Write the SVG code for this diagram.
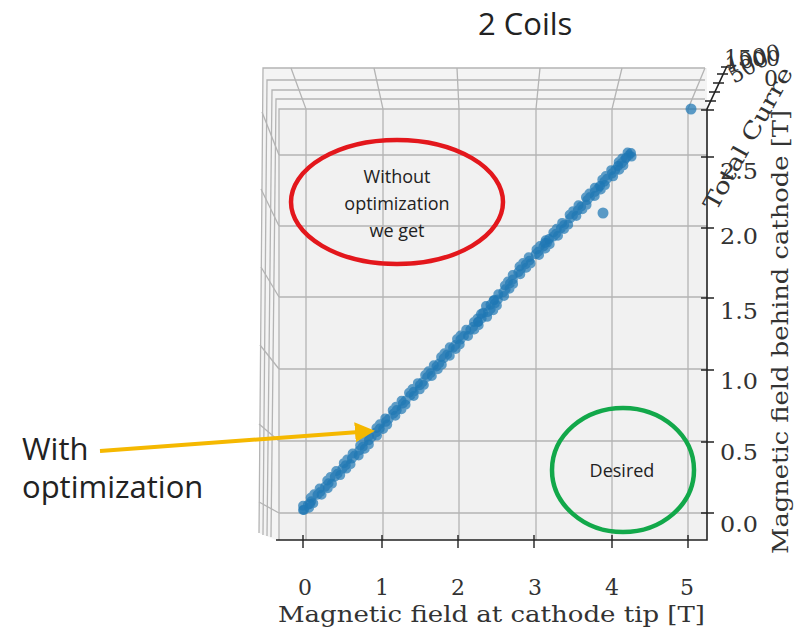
<svg xmlns="http://www.w3.org/2000/svg" width="795" height="635" viewBox="0 0 795 635">
<style>
.grid{stroke:#b4b4b4;stroke-width:1.3;fill:none}
.ax{stroke:#222;stroke-width:1.6;fill:none}
.tk{stroke:#222;stroke-width:1.4}
.num{font-family:"DejaVu Serif",serif;font-size:22px;fill:#333}
.lbl{font-family:"DejaVu Serif",serif;font-size:22.5px;fill:#333}
.note{font-family:"Open Sans","Liberation Sans",sans-serif;fill:#222}
.dots{fill:none;stroke:#1f77b4;stroke-opacity:0.7;stroke-width:10;stroke-linecap:round}
.pt{fill:#1f77b4;fill-opacity:0.72}
</style>
<defs>
<marker id="ah" markerWidth="5" markerHeight="5" refX="1" refY="2.5" orient="auto" markerUnits="strokeWidth">
<path d="M0,0 L5,2.5 L0,5 Z" fill="#f5b800"/>
</marker>
</defs>
<rect width="795" height="635" fill="#fff"/>

<g id="plot-background">
<path d="M259,533 L263,68 L707,68 L707,540 L276,540 Z" fill="#f4f4f4"/>
<rect x="279" y="109" width="428" height="431" fill="#f1f1f1"/>
</g>

<g id="grid">
<path class="grid" d="M259,533 L263,68 L705,68"/>
<path class="grid" d="M263,535 L267,80 L705,80"/>
<path class="grid" d="M267,536 L272,90 L705,90"/>
<path class="grid" d="M271,537 L276,99 L705,99"/>
<path class="grid" d="M279,540 L279,109 L707,109"/>
<path class="grid" d="M306,540 V109 L291,68 M383,540 V109 L374,68 M459,540 V109 L457,68 M536,540 V109 L540,68 M612,540 V109 L622,68 M688,540 V109 L705,68"/>
<path class="grid" d="M279,155 H707 M279,226 H707 M279,297 H707 M279,369 H707 M279,441 H707 M279,513 H707"/>
<path class="grid" d="M279,155 L262,112 M279,226 L261,189 M279,297 L261,267 M279,369 L260,345 M279,441 L259,424 M279,513 L259,502"/>
</g>

<g id="axes">
<path class="ax" d="M276,540 H707 V109 L727,66"/>
<path class="tk" d="M303,535 V548 M382,535 V548 M458,535 V548 M534,535 V548 M612,535 V548 M688,535 V548"/>
<path class="tk" d="M701,110 H714 M701,157 H714 M701,228 H714 M701,298 H714 M701,370 H714 M701,442 H714 M701,513 H714"/>
<path class="tk" d="M705,101 H716 M709,92 H720 M713,83 H724 M717,74 H728 M721,67 H731"/>
<g class="num" text-anchor="middle">
<text x="305" y="595">0</text>
<text x="382" y="595">1</text>
<text x="458" y="595">2</text>
<text x="535" y="595">3</text>
<text x="612" y="595">4</text>
<text x="687" y="595">5</text>
</g>
<g class="num">
<text x="720" y="532" textLength="38" lengthAdjust="spacingAndGlyphs">0.0</text>
<text x="720" y="460" textLength="38" lengthAdjust="spacingAndGlyphs">0.5</text>
<text x="720" y="389" textLength="38" lengthAdjust="spacingAndGlyphs">1.0</text>
<text x="720" y="319" textLength="38" lengthAdjust="spacingAndGlyphs">1.5</text>
<text x="720" y="244" textLength="38" lengthAdjust="spacingAndGlyphs">2.0</text>
<text x="720" y="179" textLength="38" lengthAdjust="spacingAndGlyphs">2.5</text>
</g>
<g class="num" font-size="20">
<text x="724" y="66">1500</text>
<text x="728" y="73" transform="rotate(-15 728 73)">1000</text>
<text x="734" y="84" transform="rotate(-30 734 84)">500</text>
<text x="764" y="86">0</text>
</g>
<text class="lbl" x="278" y="622" textLength="427" lengthAdjust="spacingAndGlyphs">Magnetic field at cathode tip [T]</text>
<text class="lbl" transform="translate(788,554) rotate(-90)" textLength="444" lengthAdjust="spacingAndGlyphs">Magnetic field behind cathode [T]</text>
<text class="lbl" transform="translate(716,212) rotate(-61)" textLength="160" lengthAdjust="spacingAndGlyphs">Total Curre</text>
</g>

<g id="scatter">
<path class="dots" stroke-dasharray="0 7 0 5 0 9 0 4" d="M303,510 L345,466 L383,425 L420,385 L460,340 L490,310 L520,270 L552,238 L590,197 L632,152"/>
<path class="dots" stroke-dasharray="0 9 0 6 0 12" stroke-dashoffset="3" d="M305,512 L347,468 L385,427 L422,387 L462,342 L492,312 L522,272 L554,240 L592,199 L634,154"/>
<path class="dots" stroke-dasharray="0 8 0 11 0 5" stroke-dashoffset="5" d="M301,508 L343,464 L381,423 L418,383 L458,338 L488,308 L518,268 L550,236 L588,195 L630,150"/>
<circle class="pt" cx="481" cy="314" r="5"/>
<circle class="pt" cx="486" cy="306" r="5"/>
<circle class="pt" cx="494" cy="300" r="5"/>
<circle class="pt" cx="478" cy="322" r="5"/>
<circle class="pt" cx="545" cy="243" r="5"/>
<circle class="pt" cx="549" cy="239" r="5"/>
<circle class="pt" cx="600" cy="186" r="5"/>
<circle class="pt" cx="618" cy="166" r="5"/>
<circle class="pt" cx="626" cy="158" r="5"/>
<circle class="pt" cx="631" cy="153" r="5"/>
<circle class="pt" cx="304" cy="510" r="5"/>
<circle class="pt" cx="310" cy="504" r="5"/>
<circle class="pt" cx="691" cy="109" r="5.5"/>
<circle class="pt" cx="603" cy="213" r="5.5"/>
</g>

<text id="title" class="note" x="478" y="35" font-size="31">2 Coils</text>

<g id="without-optimization">
<ellipse cx="397" cy="202" rx="106" ry="62" fill="none" stroke="#e3171c" stroke-width="4.5"/>
<g class="note" font-size="18" text-anchor="middle">
<text x="397" y="183">Without</text>
<text x="397" y="210">optimization</text>
<text x="397" y="237">we get</text>
</g>
</g>

<g id="desired">
<ellipse cx="623" cy="470" rx="71" ry="62" fill="none" stroke="#12a84a" stroke-width="4.5"/>
<text class="note" x="622" y="477" font-size="18" text-anchor="middle">Desired</text>
</g>

<g id="with-optimization">
<text class="note" x="22" y="460" font-size="31">With</text>
<text class="note" x="22" y="498" font-size="31">optimization</text>
</g>

<g id="connectors">
<path d="M100,451 L359,432" stroke="#f5b800" stroke-width="4" fill="none" marker-end="url(#ah)"/>
</g>
</svg>
